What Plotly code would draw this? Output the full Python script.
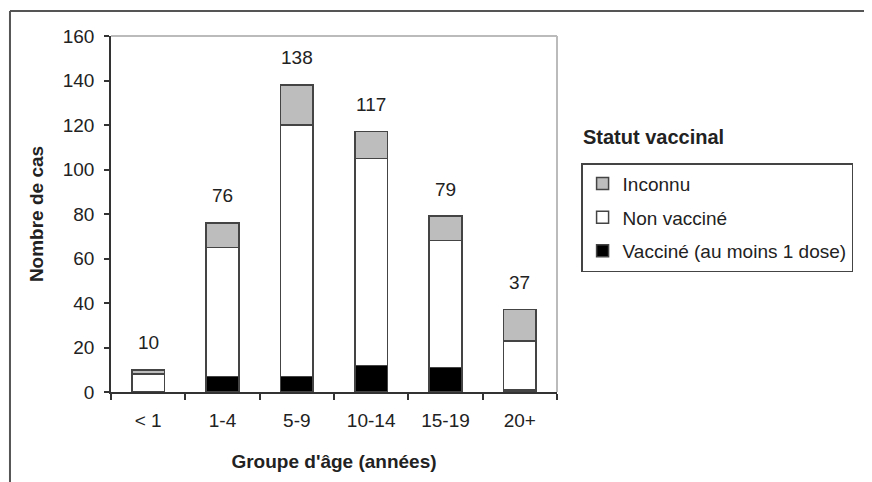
import plotly.graph_objects as go

categories = ["< 1", "1-4", "5-9", "10-14", "15-19", "20+"]
vaccine = [0, 7, 7, 12, 11, 1]
non_vaccine = [8, 58, 113, 93, 57, 22]
unknown = [2, 11, 18, 12, 11, 14]
totals = [10, 76, 138, 117, 79, 37]

FONT = "Liberation Sans, Arial, sans-serif"
EDGE = "#444444"

fig = go.Figure()
series = [
    ("Vacciné (au moins 1 dose)", vaccine, "#000000", 3),
    ("Non vacciné", non_vaccine, "#ffffff", 2),
    ("Inconnu", unknown, "#bdbdbd", 1),
]
for name, vals, color, rank in series:
    fig.add_trace(go.Bar(
        x=categories, y=vals, name=name, legendgroup=name, legendrank=rank,
        marker=dict(color=color, line=dict(color=EDGE, width=1.5)),
    ))

for cat, tot in zip(categories, totals):
    fig.add_annotation(x=cat, y=tot, text=str(tot), showarrow=False,
                       yanchor="middle", yshift=27,
                       font=dict(family=FONT, size=19, color="#222222"))

# legend title
fig.add_annotation(xref="paper", yref="paper", x=1.054, y=0.716,
                   xanchor="left", yanchor="middle", showarrow=False,
                   text="<b>Statut vaccinal</b>",
                   font=dict(family=FONT, size=20, color="#222222"))

# plot area top/right border (light gray)
fig.add_shape(type="line", xref="paper", yref="paper", x0=0, x1=1, y0=1, y1=1,
              line=dict(color="#bbbbbb", width=2), layer="below")
fig.add_shape(type="line", xref="paper", yref="paper", x0=1, x1=1, y0=0, y1=1,
              line=dict(color="#bbbbbb", width=2), layer="below")
# outer frame (top and left)
fig.add_shape(type="line", xref="paper", yref="paper", x0=-0.2265, x1=1.75, y0=1.0702, y1=1.0702,
              line=dict(color="#555555", width=2))
fig.add_shape(type="line", xref="paper", yref="paper", x0=-0.2265, x1=-0.2265, y0=-0.3, y1=1.0702,
              line=dict(color="#555555", width=2))

fig.update_layout(
    width=864, height=474,
    margin=dict(l=103, r=315, t=28, b=90, autoexpand=False),
    paper_bgcolor="white", plot_bgcolor="white",
    barmode="stack", bargap=0.56,
    font=dict(family=FONT, size=19, color="#222222"),
    showlegend=True,
    legend=dict(
        x=1.054, y=0.643, xanchor="left", yanchor="top",
        traceorder="grouped", tracegroupgap=6,
        bordercolor="#444444", borderwidth=1.5, bgcolor="white",
        font=dict(family=FONT, size=19, color="#222222"),
        itemwidth=30,
    ),
    xaxis=dict(
        showline=True, linecolor="#333333", linewidth=1.5,
        ticks="outside", ticklen=6, tickcolor="#333333", tickwidth=1.5,
        tickson="boundaries", ticklabelstandoff=10,
        showgrid=False,
        title=dict(text="<b>Groupe d'âge (années)</b>", standoff=25,
                   font=dict(family=FONT, size=19, color="#222222")),
    ),
    yaxis=dict(
        range=[0, 160], dtick=20,
        showline=True, linecolor="#333333", linewidth=1.5,
        ticks="outside", ticklen=5, tickcolor="#333333", tickwidth=1.5,
        ticklabelstandoff=6,
        showgrid=False, zeroline=False,
        title=dict(text="<b>Nombre de cas</b>", standoff=14,
                   font=dict(family=FONT, size=19, color="#222222")),
    ),
)

fig.write_html("out.html")
